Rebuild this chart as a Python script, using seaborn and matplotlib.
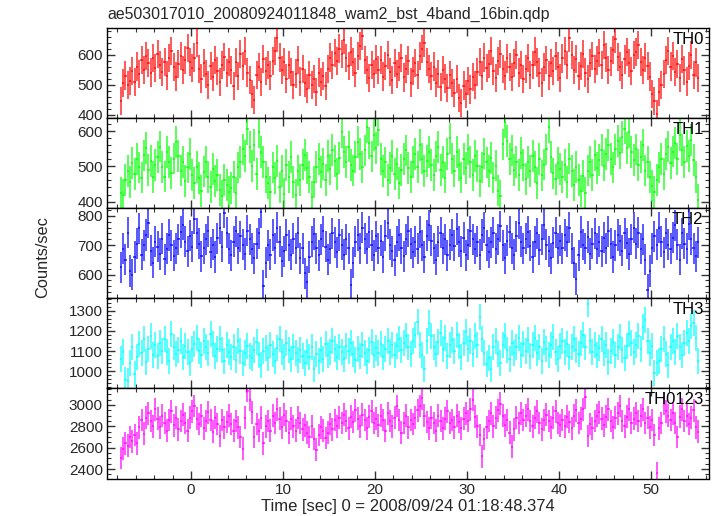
import numpy as np
import matplotlib
matplotlib.use("Agg")
import matplotlib.pyplot as plt
from matplotlib.ticker import MultipleLocator
import seaborn as sns

# ---------------- data (0.25 s bins) ----------------
t_start = -7.625
bin_width = 0.25

th0 = [
    445, 505, 530, 498, 512, 545, 508, 560, 535, 582, 548, 596, 571, 540, 588, 556,
    603, 566, 541, 575, 530, 588, 612, 558, 527, 569, 594, 548, 583, 621, 575, 555,
    590, 640, 553, 520, 572, 535, 498, 562, 527, 581, 546, 509, 566, 592, 538, 575,
    548, 496, 574, 529, 601, 563, 612, 540, 515, 470, 448, 532, 558, 509, 586, 545,
    565, 530, 578, 612, 655, 590, 548, 575, 520, 566, 541, 498, 537, 582, 510, 553,
    505, 487, 532, 498, 518, 476, 540, 509, 528, 496, 551, 590, 566, 604, 578, 620,
    602, 648, 588, 561, 610, 575, 540, 596, 628, 662, 581, 548, 522, 566, 535, 584,
    549, 582, 527, 563, 598, 541, 515, 572, 536, 560, 589, 524, 551, 580, 507, 546,
    571, 533, 596, 618, 640, 575, 552, 528, 560, 507, 536, 492, 548, 520, 489, 531,
    505, 472, 518, 456, 438, 497, 470, 512, 484, 526, 498, 541, 576, 530, 590, 555,
    568, 612, 545, 523, 578, 601, 552, 530, 587, 559, 526, 571, 598, 540, 565, 519,
    552, 588, 531, 566, 610, 574, 540, 507, 559, 583, 530, 571, 545, 595, 560, 523,
    587, 612, 566, 656, 598, 548, 585, 529, 562, 603, 540, 518, 572, 596, 551, 580,
    604, 566, 632, 590, 548, 577, 615, 653, 592, 560, 531, 584, 608, 571, 546, 598,
    608, 632, 575, 548, 590, 563, 527, 470, 445, 402, 476, 498, 535, 581, 612, 560,
    595, 541, 568, 522, 586, 547, 510, 563, 598, 532, 574, 521,
]

th1 = [
    425, 418, 462, 486, 455, 510, 478, 520, 497, 468, 531, 552, 489, 515, 470, 503,
    527, 556, 498, 471, 540, 513, 482, 522, 569, 530, 488, 512, 459, 497, 535, 476,
    452, 498, 466, 430, 485, 512, 470, 441, 492, 458, 475, 432, 416, 462, 448, 427,
    438, 470, 425, 497, 512, 548, 530, 606, 555, 501, 560, 478, 597, 540, 512, 470,
    452, 428, 497, 466, 515, 440, 486, 421, 503, 470, 527, 455, 418, 488, 462, 505,
    532, 496, 470, 412, 455, 498, 521, 483, 507, 462, 530, 491, 546, 515, 478, 523,
    598, 540, 512, 556, 503, 488, 527, 570, 535, 498, 545, 612, 566, 528, 589, 552,
    604, 520, 486, 511, 462, 495, 530, 478, 507, 452, 489, 521, 545, 496, 470, 512,
    534, 498, 560, 522, 487, 515, 541, 503, 476, 528, 555, 490, 512, 468, 535, 579,
    522, 487, 541, 503, 468, 520, 495, 548, 512, 476, 530, 501, 459, 497, 536, 511,
    486, 523, 468, 502, 431, 415, 562, 625, 571, 520, 545, 490, 512, 475, 538, 503,
    465, 512, 487, 530, 498, 452, 521, 474, 505, 548, 612, 527, 480, 463, 510, 492,
    470, 503, 455, 522, 486, 447, 498, 461, 430, 472, 425, 488, 512, 476, 531, 495,
    518, 546, 502, 535, 560, 521, 497, 548, 572, 538, 583, 607, 552, 596, 540, 517,
    548, 503, 526, 561, 488, 512, 470, 445, 428, 462, 497, 521, 478, 535, 556, 509,
    542, 567, 521, 588, 546, 512, 557, 530, 575, 518, 470, 405,
]

th2 = [
    625, 688, 650, 742, 612, 600, 660, 705, 758, 668, 700, 735, 776, 682, 640, 712,
    695, 670, 722, 652, 688, 735, 700, 664, 690, 720, 745, 770, 712, 680, 732, 695,
    790, 740, 705, 662, 690, 720, 748, 676, 702, 660, 724, 758, 695, 810, 742, 688,
    665, 712, 748, 690, 730, 702, 670, 750, 720, 688, 655, 705, 740, 812, 562, 640,
    700, 668, 735, 690, 760, 712, 645, 680, 735, 700, 668, 722, 690, 742, 655, 690,
    605, 575, 660, 712, 738, 690, 665, 720, 748, 695, 650, 688, 740, 710, 676, 735,
    702, 668, 720, 690, 565, 640, 712, 735, 690, 760, 722, 688, 745, 700, 665, 730,
    690, 715, 660, 732, 775, 702, 680, 648, 712, 735, 690, 662, 720, 748, 705, 676,
    712, 688, 745, 700, 660, 732, 768, 715, 690, 650, 712, 742, 690, 720, 665, 702,
    735, 698, 755, 712, 680, 725, 665, 702, 748, 720, 688, 712, 668, 735, 760, 700,
    676, 710, 742, 688, 720, 765, 700, 655, 715, 745, 690, 668, 730, 775, 712, 690,
    722, 745, 698, 660, 712, 740, 685, 720, 770, 702, 680, 655, 708, 742, 690, 715,
    690, 735, 712, 760, 688, 640, 585, 665, 745, 702, 690, 728, 670, 705, 740, 688,
    712, 680, 725, 690, 748, 705, 660, 700, 735, 715, 682, 740, 706, 670, 720, 760,
    705, 742, 688, 720, 650, 548, 612, 690, 730, 702, 760, 712, 676, 740, 702, 688,
    725, 768, 702, 650, 740, 705, 688, 772, 720, 690, 662, 710,
]

th3 = [
    1060, 1095, 955, 950, 1040, 1120, 985, 1070, 1135, 1090, 1160, 1045, 1110, 1175, 1080, 1130,
    1075, 1140, 1100, 1160, 1095, 1050, 1185, 1120, 1085, 1105, 1150, 1070, 1125, 1095, 1040, 1110,
    1135, 1165, 1100, 1080, 1150, 1120, 1090, 1185, 1135, 1075, 1110, 1160, 1105, 1050, 1130, 1095,
    1070, 1120, 1055, 1150, 1100, 1040, 1090, 1125, 1075, 1065, 1105, 1145, 1080, 1030, 1100, 1115,
    1065, 1130, 1085, 1050, 1115, 1160, 1095, 1070, 1140, 1105, 1060, 1120, 1090, 1055, 1105, 1075,
    1040, 1095, 1070, 1120, 1010, 1085, 1050, 1105, 1060, 1135, 1080, 1095, 1150, 1110, 1070, 1120,
    1095, 1060, 1125, 1100, 1140, 1085, 1055, 1110, 1075, 1130, 1090, 1050, 1105, 1145, 1080, 1115,
    1090, 1135, 1070, 1110, 1150, 1095, 1130, 1080, 1125, 1160, 1105, 1140, 1175, 1120, 1085, 1150,
    1180, 1245, 1130, 1080, 1010, 1150, 1240, 1175, 1120, 1085, 1145, 1190, 1110, 1165, 1075, 1130,
    1155, 1100, 1180, 1125, 1070, 1140, 1195, 1110, 1150, 1085, 1175, 1130, 1270, 1160, 1090, 1035,
    1065, 1010, 1120, 1150, 1085, 1040, 1130, 1175, 1105, 1060, 1140, 1090, 1120, 1165, 1080, 1135,
    1100, 1155, 1075, 1130, 1165, 1090, 1120, 1050, 1145, 1110, 1080, 1130, 1170, 1095, 1060, 1125,
    1150, 1095, 1135, 1070, 1120, 1160, 1105, 1085, 1140, 1180, 1120, 1335, 1150, 1095, 1130, 1080,
    1115, 1160, 1090, 1130, 1045, 1100, 1145, 1080, 1120, 1170, 1105, 1065, 1125, 1185, 1140, 1095,
    1130, 1175, 1110, 1220, 1255, 1150, 1090, 1125, 990, 1040, 1050, 1110, 1160, 1085, 1030, 1120,
    1150, 1095, 1175, 1120, 1080, 1140, 1190, 1150, 1225, 1240, 1165, 1050,
]

th0123 = [
    2505, 2590, 2640, 2620, 2700, 2660, 2720, 2640, 2790, 2860, 2730, 2880, 2920, 2850, 2800, 2960,
    2870, 2790, 2900, 2830, 2760, 2860, 2940, 2810, 2880, 2770, 2850, 2910, 2830, 2760, 2880, 2940,
    2990, 2870, 2820, 2900, 2780, 2850, 2930, 2860, 2750, 2880, 2820, 2710, 2860, 2790, 2840, 2900,
    2820, 2760, 2850, 2790, 2700, 2590, 2880, 3130, 3050, 2930, 2700, 2820, 2760, 2880, 2640, 2800,
    2850, 2760, 2900, 2830, 2960, 2870, 2790, 2910, 2850, 2740, 2870, 2800, 2760, 2880, 2830, 2770,
    2810, 2740, 2700, 2800, 2680, 2580, 2720, 2790, 2760, 2690, 2740, 2820, 2770, 2860, 2800, 2880,
    2830, 2910, 2850, 2780, 2890, 2840, 2950, 2870, 2800, 2910, 2860, 2780, 2890, 2940, 2830, 2870,
    2810, 2900, 2860, 2760, 2920, 2850, 2800, 2880, 2990, 2860, 2740, 2830, 2900, 2790, 2860, 2820,
    2880, 2950, 2990, 3060, 2900, 2840, 2780, 2880, 2830, 2760, 2900, 2850, 2780, 2870, 2940, 2830,
    2860, 2790, 2900, 2840, 2780, 2870, 2920, 2850, 2960, 3050, 2890, 2800, 2720, 2520, 2680, 2790,
    2850, 2920, 2800, 2880, 2950, 3010, 2900, 2810, 2860, 2740, 2610, 2770, 2880, 2830, 2920, 2860,
    2900, 2960, 2850, 2800, 2880, 2940, 2830, 2770, 2860, 2910, 2850, 2790, 2880, 2940, 2830, 2810,
    2860, 2800, 2890, 2840, 2780, 2900, 2950, 2830, 2870, 2960, 3070, 2710, 2820, 2780, 2850, 2900,
    2930, 2870, 2810, 2890, 2960, 2850, 2790, 2880, 2920, 2990, 2850, 2800, 2890, 2960, 2830, 2870,
    2920, 2850, 2900, 2960, 2830, 2880, 2790, 2860, 2720, 2360, 2780, 2830, 3010, 2940, 2900, 2860,
    2920, 2830, 2700, 2890, 2960, 2850, 2900, 2820, 2880, 2950, 2790, 2750,
]

band_names = ["TH0", "TH1", "TH2", "TH3", "TH0123"]
band_rates = [th0, th1, th2, th3, th0123]
band_err = [47, 45, 53, 66, 106]
band_colors = ["#ff0000", "#00ff00", "#0000ff", "#00ffff", "#ff00ff"]
y_limits = [(390, 690), (382, 638), (520, 827), (915, 1363), (2312, 3155)]
y_major = [100, 100, 100, 100, 200]
y_minor = [20, 20, 20, 20, 50]
x_limits = (-9.13, 56.3)

title_text = "ae503017010_20080924011848_wam2_bst_4band_16bin.qdp"
x_label = "Time [sec] 0 = 2008/09/24 01:18:48.374"
y_label = "Counts/sec"

# ---------------- plotting ----------------
sns.set_theme(style="ticks")
plt.rcParams["font.family"] = ["Liberation Sans", "DejaVu Sans"]
plt.rcParams["font.size"] = 11

W, H = 717, 516
fig = plt.figure(figsize=(W / 100, H / 100), dpi=100)
left, right = 107 / W, 709 / W
top, bottom = 1 - 27.5 / H, 1 - 478.5 / H
ph = (top - bottom) / 5

for k, name in enumerate(band_names):
    ax = fig.add_axes([left, top - (k + 1) * ph, right - left, ph])
    rates = np.asarray(band_rates[k], dtype=float)
    times = t_start + bin_width * np.arange(len(rates))
    ax.errorbar(times, rates, yerr=band_err[k], xerr=bin_width / 2,
                fmt="none", ecolor=band_colors[k], elinewidth=1.15,
                capsize=0, alpha=0.8)
    sns.despine(ax=ax, top=False, right=False, left=False, bottom=False)
    ax.set_xlim(*x_limits)
    ax.set_ylim(*y_limits[k])
    ax.xaxis.set_major_locator(MultipleLocator(10))
    ax.xaxis.set_minor_locator(MultipleLocator(2))
    ax.yaxis.set_major_locator(MultipleLocator(y_major[k]))
    ax.yaxis.set_minor_locator(MultipleLocator(y_minor[k]))
    ax.tick_params(which="both", direction="in", top=True, right=True,
                   color="#333333", labelsize=11, pad=3)
    ax.tick_params(which="major", length=6, width=1)
    ax.tick_params(which="minor", length=3, width=0.8)
    for sp in ax.spines.values():
        sp.set_linewidth(1.0)
        sp.set_color("black")
    if k < 4:
        ax.tick_params(labelbottom=False)
    ax.text(0.991, 0.955, name, transform=ax.transAxes, ha="right", va="top",
            fontsize=12, color="black")

fig.text(left, 1 - 14 / H, title_text, ha="left", va="center", fontsize=11.4)
fig.text(43 / W, 1 - 257 / H, y_label, rotation=90, ha="center", va="center", fontsize=11.8)
fig.text((left + right) / 2, 1 - 506 / H, x_label, ha="center", va="center", fontsize=12)

fig.savefig("out.png", dpi=100)
